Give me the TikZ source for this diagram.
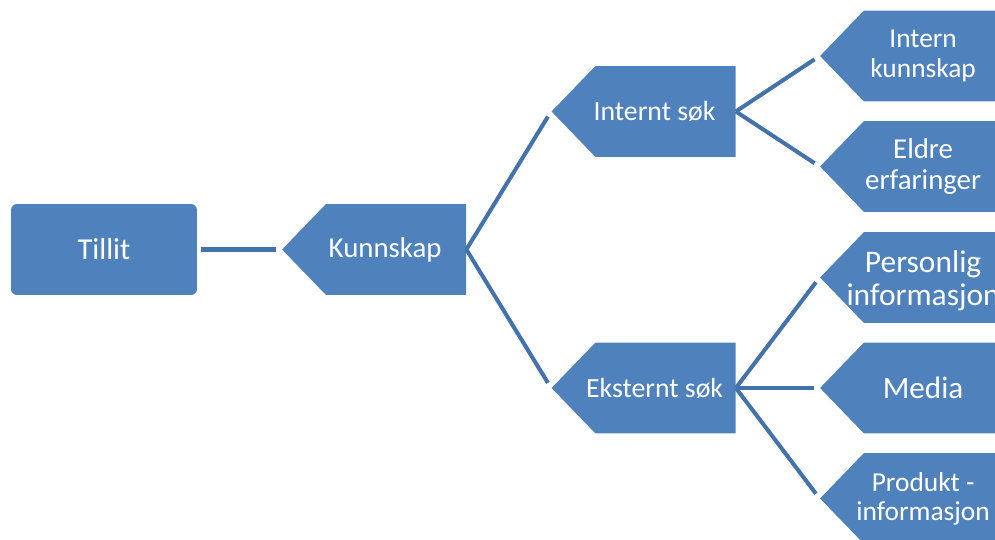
\documentclass[tikz,border=0pt]{standalone}
\usepackage{fontspec}
\setmainfont{Carlito}
\usetikzlibrary{shapes.symbols}
\definecolor{boxblue}{RGB}{79,129,189}
\definecolor{lineblue}{RGB}{68,114,170}
\newcommand{\fs}[2]{\fontsize{#1}{#2}\selectfont}
\begin{document}
\begin{tikzpicture}[x=0.02cm,y=-0.02cm,line join=round,
	box/.style={fill=boxblue,text=white,align=center,inner sep=0pt,minimum height=1.82cm},
	arrowbox/.style={box,shape=signal,signal to=west,signal pointer angle=92,minimum width=3.68cm},
	boxtext/.style={text=white,align=center,inner sep=0pt},
	link/.style={draw=lineblue,line width=2.3pt,shorten >=0.12cm}]
		\useasboundingbox (0,0) rectangle (995,540);
		\clip (0,0) rectangle (995,540);
		% level 0 and 1
		\node[box,rounded corners=0.12cm,minimum width=3.72cm,font=\fs{17.3}{19}] (tillit) at (104,249.5) {Tillit};
		\node[arrowbox] (kunnskap) at (396,249.5) {};
		\node[boxtext,font=\fs{16.4}{18}] (t-kunnskap) at ([xshift=-6.2pt]kunnskap.center) {Kunnskap};
		% level 2
		\node[arrowbox] (intsok) at (665.5,111.5) {};
		\node[boxtext,font=\fs{15.8}{17}] (t-intsok) at ([xshift=-6.2pt]intsok.center) {Internt søk};
		\node[arrowbox] (ekssok) at (665.5,388) {};
		\node[boxtext,font=\fs{15.8}{17}] (t-ekssok) at ([xshift=-6.2pt]ekssok.center) {Eksternt søk};
		% level 3
		\node[arrowbox] (intkunn) at (934,56) {};
		\node[boxtext,font=\fs{15.6}{17}] (t-intkunn) at ([xshift=-6.2pt]intkunn.center) {Intern\\kunnskap};
		\node[arrowbox] (eldre) at (934,166.5) {};
		\node[boxtext,font=\fs{16.4}{17.5}] (t-eldre) at ([xshift=-6.2pt]eldre.center) {Eldre\\erfaringer};
		\node[arrowbox] (person) at (934,277.5) {};
		\node[boxtext,font=\fs{17.9}{18.7}] (t-person) at ([xshift=-6.2pt,yshift=-2pt]person.center) {Personlig\\informasjon};
		\node[arrowbox] (media) at (934,388) {};
		\node[boxtext,font=\fs{17.7}{19}] (t-media) at ([xshift=-6.2pt]media.center) {Media};
		\node[arrowbox] (produkt) at (934,498.5) {};
		\node[boxtext,font=\fs{15.6}{16.5}] (t-produkt) at ([xshift=-6.2pt]produkt.center) {Produkt -\\informasjon};
		% connectors
		\draw[link] (tillit.east)+(4,0) -- (kunnskap.west);
		\draw[link] (kunnskap.east) -- (intsok.west);
		\draw[link] (kunnskap.east) -- (ekssok.west);
		\draw[link] (intsok.east) -- (intkunn.west);
		\draw[link] (intsok.east) -- (eldre.west);
		\draw[link] (ekssok.east) -- (person.west);
		\draw[link] (ekssok.east) -- (media.west);
		\draw[link] (ekssok.east) -- (produkt.west);
\end{tikzpicture}
\end{document}
